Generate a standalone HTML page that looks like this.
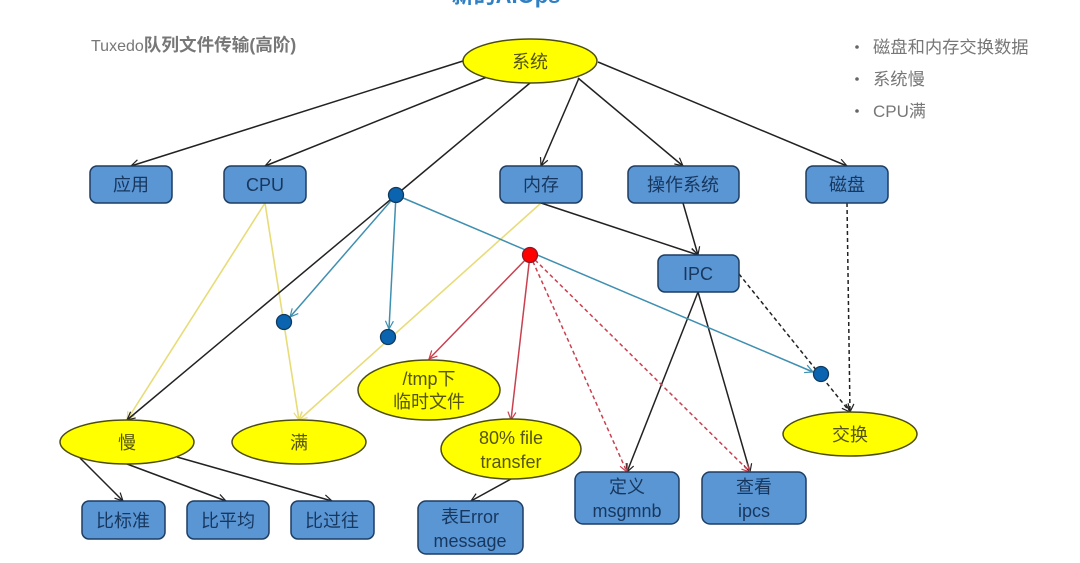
<!DOCTYPE html>
<html>
<head>
<meta charset="utf-8">
<style>
html,body{margin:0;padding:0;background:#fff;}
svg{display:block;filter:blur(0.35px);}
text{font-family:"Liberation Sans","Noto Sans CJK SC",sans-serif;text-anchor:middle;}
.b{fill:#5a96d3;stroke:#1d3d63;stroke-width:1.5;}
.e{fill:#ffff00;stroke:#4d4d12;stroke-width:1.5;}
.d{fill:#0a64b0;stroke:#123a5f;stroke-width:1.3;}
.bt{font-size:18px;fill:#17375f;}
.et{font-size:18px;fill:#55550f;}
.g{font-size:16px;fill:#777;text-anchor:start;}
.k{stroke:#222;stroke-width:1.5;fill:none;}
.y{stroke:#e8dc78;stroke-width:1.6;fill:none;}
.t{stroke:#3f8fb0;stroke-width:1.5;fill:none;}
.r{stroke:#c9404f;stroke-width:1.5;fill:none;}
.ds{stroke-dasharray:4 3;}
</style>
</head>
<body>
<svg width="1080" height="563" viewBox="0 0 1080 563" xmlns="http://www.w3.org/2000/svg">
<defs>
<marker id="ak" markerWidth="12" markerHeight="12" refX="9" refY="5" orient="auto" markerUnits="userSpaceOnUse"><path d="M1 1L9 5L1 9" fill="none" stroke="#222" stroke-width="1.2"/></marker>
<marker id="ay" markerWidth="12" markerHeight="12" refX="9" refY="5" orient="auto" markerUnits="userSpaceOnUse"><path d="M1 1L9 5L1 9" fill="none" stroke="#e8dc78" stroke-width="1.2"/></marker>
<marker id="at" markerWidth="12" markerHeight="12" refX="9" refY="5" orient="auto" markerUnits="userSpaceOnUse"><path d="M1 1L9 5L1 9" fill="none" stroke="#3f8fb0" stroke-width="1.2"/></marker>
<marker id="ar" markerWidth="12" markerHeight="12" refX="9" refY="5" orient="auto" markerUnits="userSpaceOnUse"><path d="M1 1L9 5L1 9" fill="none" stroke="#c9404f" stroke-width="1.2"/></marker>
</defs>

<text x="506" y="3" style="font-size:22px;font-weight:bold;fill:#2f7fc4;">新的AIOps</text>

<text class="g" x="91" y="51">Tuxedo<tspan font-weight="bold" style="font-size:17.6px">队列文件传输(高阶)</tspan></text>

<circle cx="857" cy="47" r="1.8" fill="#666"/>
<circle cx="857" cy="79" r="1.8" fill="#666"/>
<circle cx="857" cy="111" r="1.8" fill="#666"/>
<text class="g" x="873" y="53" style="font-size:17.3px">磁盘和内存交换数据</text>
<text class="g" x="873" y="85" style="font-size:17.3px">系统慢</text>
<text class="g" x="873" y="117" style="font-size:17px">CPU满</text>

<!-- yellow -->
<path class="y" d="M265 203L127 420" marker-end="url(#ay)"/>
<path class="y" d="M265 203L299 420" marker-end="url(#ay)"/>
<path class="y" d="M541 203L299 420" marker-end="url(#ay)"/>

<!-- black -->
<path class="k" d="M463 61L131 166" marker-end="url(#ak)"/>
<path class="k" d="M487 77L265 166" marker-end="url(#ak)"/>
<path class="k" d="M530 83L396 195"/>
<path class="k" d="M396 195L127 420" marker-end="url(#ak)"/>
<path class="k" d="M579 78L541 166" marker-end="url(#ak)"/>
<path class="k" d="M578 78L683 166" marker-end="url(#ak)"/>
<path class="k" d="M598 62L847 166" marker-end="url(#ak)"/>
<path class="k" d="M541 203L698 255" marker-end="url(#ak)"/>
<path class="k" d="M683 203L698 255" marker-end="url(#ak)"/>
<path class="k" d="M698 292L627 472" marker-end="url(#ak)"/>
<path class="k" d="M698 292L750 472" marker-end="url(#ak)"/>
<path class="k ds" d="M847 203L850 412" marker-end="url(#ak)"/>
<path class="k ds" d="M739 274L850 412" marker-end="url(#ak)"/>
<path class="k" d="M511 479L471 501" marker-end="url(#ak)"/>
<path class="k" d="M80 458L123 501" marker-end="url(#ak)"/>
<path class="k" d="M127 464L226 501" marker-end="url(#ak)"/>
<path class="k" d="M177 457L332 501" marker-end="url(#ak)"/>

<!-- teal -->
<path class="t" d="M396 195L290 317" marker-end="url(#at)"/>
<path class="t" d="M396 195L389 329" marker-end="url(#at)"/>
<path class="t" d="M396 195L813 372" marker-end="url(#at)"/>

<!-- red -->
<path class="r" d="M530 255L429 359" marker-end="url(#ar)"/>
<path class="r" d="M530 255L511 420" marker-end="url(#ar)"/>
<path class="r ds" d="M530 255L627 472" marker-end="url(#ar)"/>
<path class="r ds" d="M530 255L750 472" marker-end="url(#ar)"/>

<!-- dots -->
<circle class="d" cx="396" cy="195" r="7.5"/>
<circle class="d" cx="284" cy="322" r="7.5"/>
<circle class="d" cx="388" cy="337" r="7.5"/>
<circle class="d" cx="821" cy="374" r="7.5"/>
<circle cx="530" cy="255" r="7.5" fill="#f00" stroke="#8a1a2a" stroke-width="1.3"/>

<!-- ellipses -->
<ellipse class="e" cx="530" cy="61" rx="67" ry="22"/>
<text class="et" x="530" y="68">系统</text>
<ellipse class="e" cx="429" cy="390" rx="71" ry="30"/>
<text class="et" x="429" y="385">/tmp下</text>
<text class="et" x="429" y="408">临时文件</text>
<ellipse class="e" cx="511" cy="449" rx="70" ry="30"/>
<text class="et" x="511" y="444">80% file</text>
<text class="et" x="511" y="468">transfer</text>
<ellipse class="e" cx="127" cy="442" rx="67" ry="22"/>
<text class="et" x="127" y="449">慢</text>
<ellipse class="e" cx="299" cy="442" rx="67" ry="22"/>
<text class="et" x="299" y="449">满</text>
<ellipse class="e" cx="850" cy="434" rx="67" ry="22"/>
<text class="et" x="850" y="441">交换</text>

<!-- boxes -->
<rect class="b" x="90" y="166" width="82" height="37" rx="7"/>
<text class="bt" x="131" y="191">应用</text>
<rect class="b" x="224" y="166" width="82" height="37" rx="7"/>
<text class="bt" x="265" y="191">CPU</text>
<rect class="b" x="500" y="166" width="82" height="37" rx="7"/>
<text class="bt" x="541" y="191">内存</text>
<rect class="b" x="628" y="166" width="111" height="37" rx="7"/>
<text class="bt" x="683" y="191">操作系统</text>
<rect class="b" x="806" y="166" width="82" height="37" rx="7"/>
<text class="bt" x="847" y="191">磁盘</text>
<rect class="b" x="658" y="255" width="81" height="37" rx="7"/>
<text class="bt" x="698" y="280">IPC</text>
<rect class="b" x="82" y="501" width="83" height="38" rx="7"/>
<text class="bt" x="123" y="527">比标准</text>
<rect class="b" x="187" y="501" width="82" height="38" rx="7"/>
<text class="bt" x="228" y="527">比平均</text>
<rect class="b" x="291" y="501" width="83" height="38" rx="7"/>
<text class="bt" x="332" y="527">比过往</text>
<rect class="b" x="418" y="501" width="105" height="53" rx="8"/>
<text class="bt" x="470" y="523">表Error</text>
<text class="bt" x="470" y="547">message</text>
<rect class="b" x="575" y="472" width="104" height="52" rx="8"/>
<text class="bt" x="627" y="493">定义</text>
<text class="bt" x="627" y="517">msgmnb</text>
<rect class="b" x="702" y="472" width="104" height="52" rx="8"/>
<text class="bt" x="754" y="493">查看</text>
<text class="bt" x="754" y="517">ipcs</text>
</svg>
</body>
</html>
